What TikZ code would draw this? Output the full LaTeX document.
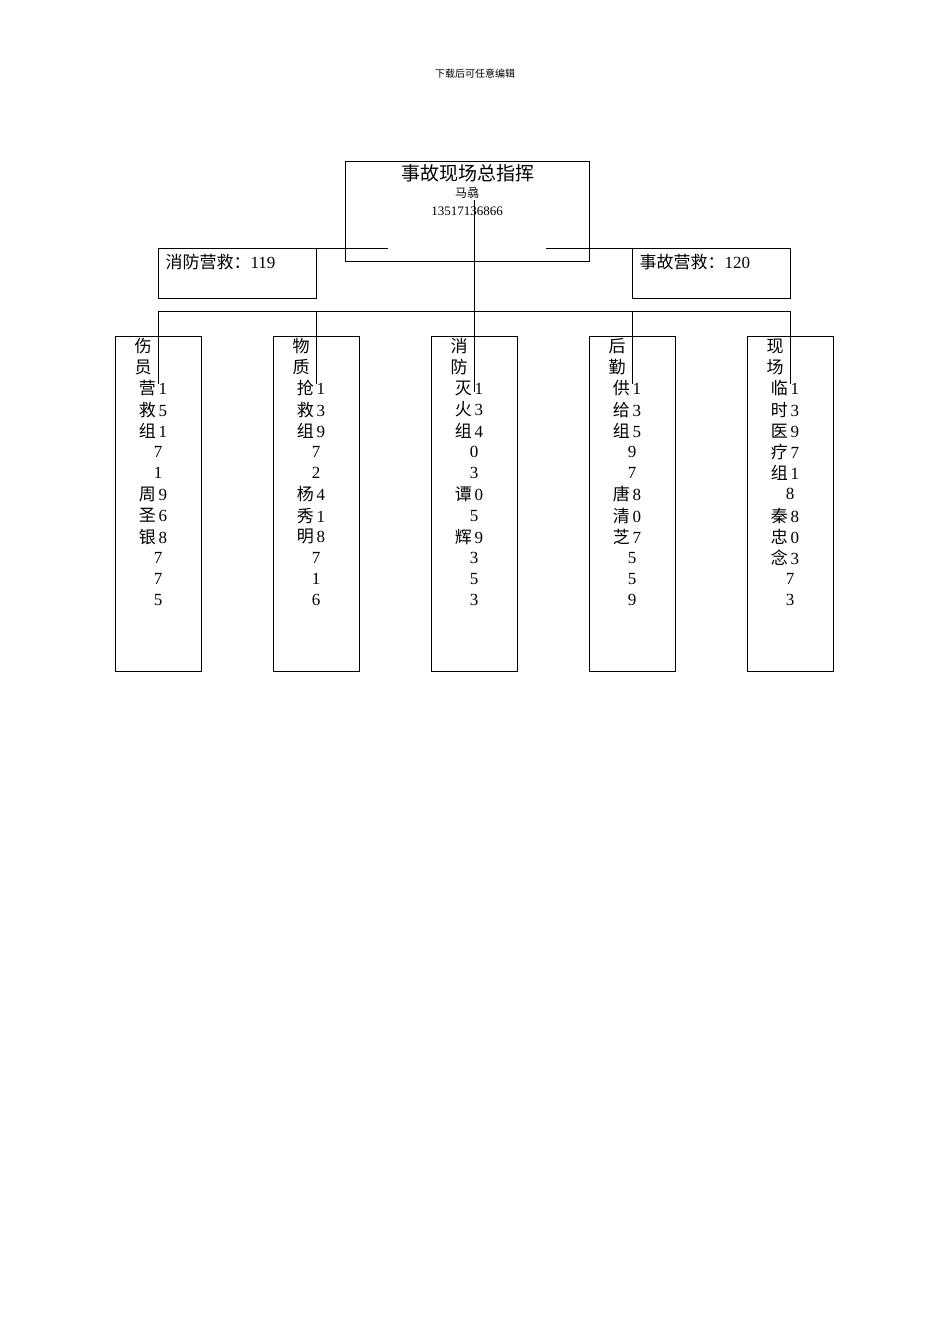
\documentclass[tikz,border=0pt]{standalone}
\usepackage{fontspec}
\setmainfont{Liberation Serif}
\newfontfamily\cjk{Noto Sans CJK SC}
\begin{document}
\begin{tikzpicture}[x=1pt,y=-1pt,line width=1pt,
  box/.style={draw,thick},
  t/.style={inner sep=0pt,font=\fontsize{17}{17}\selectfont}]
\useasboundingbox (0,0) rectangle (950,1344);
\node[inner sep=0pt,font=\cjk\fontsize{10}{10}\selectfont] (hdr) at (475,74) {下载后可任意编辑};
\draw[box] (345,161) rectangle (589,261);
\node[inner sep=0pt,font=\cjk\fontsize{19}{19}\selectfont] (title) at (468,173) {事故现场总指挥};
\node[inner sep=0pt,font=\cjk\fontsize{12}{12}\selectfont] (name) at (467,193) {马骉};
\node[inner sep=0pt,font=\fontsize{13}{13}\selectfont] (phone) at (467,211) {13517136866};
\draw[box] (158,248) rectangle (316,298);
\draw[box] (632,248) rectangle (790,298);
\node[t,anchor=west] (fire) at (165,262) {{\cjk 消防营救：}119};
\node[t,anchor=west] (med) at (639,262) {{\cjk 事故营救：}120};
\coordinate (la) at (388,248); \coordinate (ra) at (546,248);
\draw (316,248) -- (la);
\draw (ra) -- (632,248);
\coordinate (top) at (474,200);
\coordinate (bus) at (474,311);
\draw (top) -- (474,392);
\draw (158,311) -- (790,311);
\foreach \x in {158,316,632,790} \draw (\x,311) -- (\x,384);
\foreach \x in {115,273,431,589,747} \draw[box] (\x,336) rectangle (\x+86,671);
% column texts
\def\colrows#1#2{%
  \foreach [count=\i] \a/\b in {#2} {%
    \pgfmathsetmacro\yy{346+21.2*(\i-1)}%
    \ifx\a\empty
      \node[t] at (#1+5,\yy) {\b};
    \else\ifx\b\empty
      \node[t,cjk-only] at (#1-10,\yy) {\cjk\a};
    \else
      \node[t] at (#1,\yy) {{\cjk\a}\,\b};
    \fi\fi}}
\tikzset{cjk-only/.style={}}
\colrows{153}{伤/,员/,营/1,救/5,组/1,/7,/1,周/9,圣/6,银/8,/7,/7,/5}
\colrows{311}{物/,质/,抢/1,救/3,组/9,/7,/2,杨/4,秀/1,明/8,/7,/1,/6}
\colrows{469}{消/,防/,灭/1,火/3,组/4,/0,/3,谭/0,/5,辉/9,/3,/5,/3}
\colrows{627}{后/,勤/,供/1,给/3,组/5,/9,/7,唐/8,清/0,芝/7,/5,/5,/9}
\colrows{785}{现/,场/,临/1,时/3,医/9,疗/7,组/1,/8,秦/8,忠/0,念/3,/7,/3}
\end{tikzpicture}
\end{document}
